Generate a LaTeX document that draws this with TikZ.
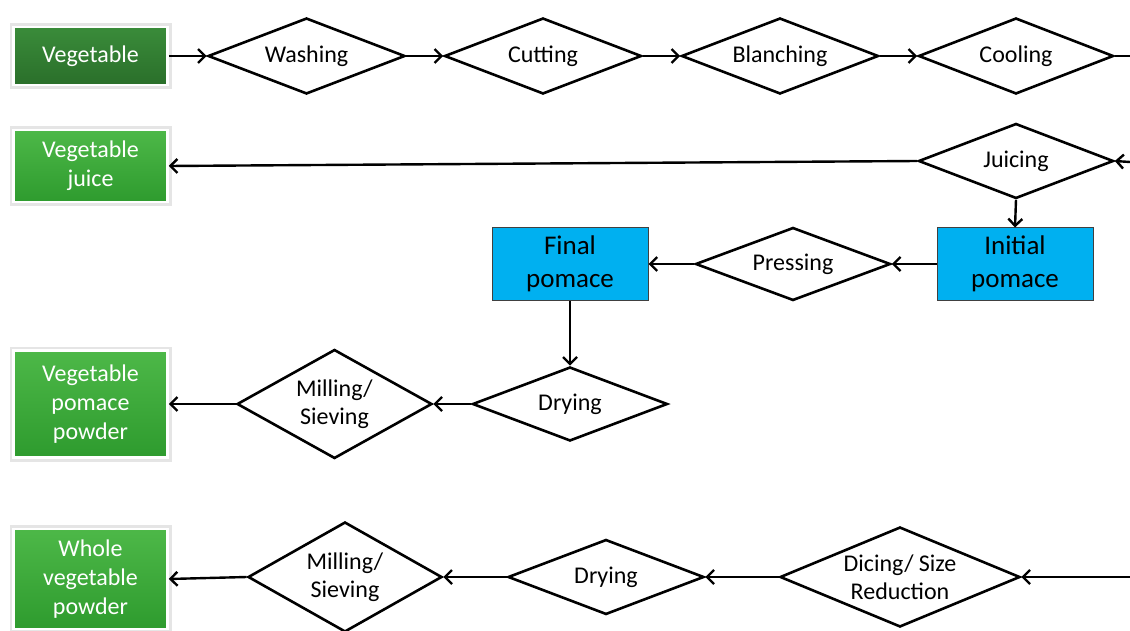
\documentclass[tikz,border=0pt]{standalone}
\usepackage{fontspec}
\setmainfont{Carlito}
\usetikzlibrary{shapes.geometric,arrows.meta}
\definecolor{gtop}{HTML}{4DB848}
\definecolor{gbot}{HTML}{2E9B2E}
\definecolor{dgtop}{HTML}{3A8C3A}
\definecolor{dgbot}{HTML}{2A6F2A}
\definecolor{pomblue}{HTML}{00B0F0}
\begin{document}
\begin{tikzpicture}[x=1pt,y=-1pt,
  proc/.style={diamond, draw=black, line width=2.6pt, fill=white, inner sep=0pt, aspect=3,
    font=\fontsize{24}{28}\selectfont, align=center},
  gbox/.style={rectangle, draw=white, line width=2.5pt, top color=gtop, bottom color=gbot,
    text=white, minimum width=154, inner sep=0pt,
    font=\fontsize{24}{29}\selectfont, align=center,
    preaction={draw=black!10, line width=8pt}},
  bbox/.style={rectangle, draw=black!75, line width=1pt, fill=pomblue,
    minimum width=156, minimum height=72, inner sep=0pt,
    font=\fontsize{27}{33}\selectfont, align=center},
  arr/.style={-{Straight Barb[length=7pt,width=14pt,line width=2.4pt]}, line width=2.4pt},
  ln/.style={line width=2.4pt}]
\useasboundingbox (0,0) rectangle (1130,631);
% row 1
\node[gbox, top color=dgtop, bottom color=dgbot, minimum height=58] (veg) at (90.5,56) {Vegetable};
\node[proc, minimum width=197, minimum height=76] (wash) at (306.5,56) {Washing};
\node[proc, minimum width=197, minimum height=76] (cut) at (543,56) {Cutting};
\node[proc, minimum width=197, minimum height=76] (blanch) at (780,56) {Blanching};
\node[proc, minimum width=195, minimum height=76] (cool) at (1016,56) {Cooling};
\coordinate (e1) at (1130,56);
% row 2
\node[gbox, minimum height=72] (vj) at (90.5,166) {Vegetable\\juice};
\node[proc, minimum width=195, minimum height=75] (juicing) at (1016,161) {Juicing};
\coordinate (e2) at (1130,162);
% row 3
\node[bbox] (init) at (1015,264) {Initial\\pomace};
\node[proc, minimum width=195, minimum height=73] (press) at (793,264) {Pressing};
\node[bbox] (final) at (570,264) {Final\\pomace};
% row 4
\node[proc, minimum width=195, minimum height=74] (dry1) at (570,404) {Drying};
\node[proc, aspect=1.6, minimum width=195, minimum height=109] (mill1) at (334.5,404) {Milling/\\Sieving};
\node[gbox, minimum height=107] (vpp) at (90.5,404) {Vegetable\\pomace\\powder};
% row 5
\coordinate (e3) at (1130,577);
\node[proc, aspect=2.2, minimum width=240, minimum height=100] (dice) at (900,577) {Dicing/ Size\\Reduction};
\node[proc, minimum width=196, minimum height=75] (dry2) at (606,577) {Drying};
\node[proc, aspect=1.6, minimum width=194, minimum height=110] (mill2) at (345,577) {Milling/\\Sieving};
\node[gbox, minimum height=100] (wvp) at (90.5,579) {Whole\\vegetable\\powder};
% connectors
\draw[arr] (veg.east) -- (wash.west);
\draw[arr] (wash.east) -- (cut.west);
\draw[arr] (cut.east) -- (blanch.west);
\draw[arr] (blanch.east) -- (cool.west);
\draw[ln] (cool.east) -- (e1);
\draw[arr] (e2) -- (juicing.east);
\draw[arr] (juicing.west) -- (vj.east);
\draw[arr] (juicing.south) -- (init.north);
\draw[arr] (init.west) -- (press.east);
\draw[arr] (press.west) -- (final.east);
\draw[arr] (final.south) -- (dry1.north);
\draw[arr] (dry1.west) -- (mill1.east);
\draw[arr] (mill1.west) -- (vpp.east);
\draw[arr] (e3) -- (dice.east);
\draw[arr] (dice.west) -- (dry2.east);
\draw[arr] (dry2.west) -- (mill2.east);
\draw[arr] (mill2.west) -- (wvp.east);
\end{tikzpicture}
\end{document}
